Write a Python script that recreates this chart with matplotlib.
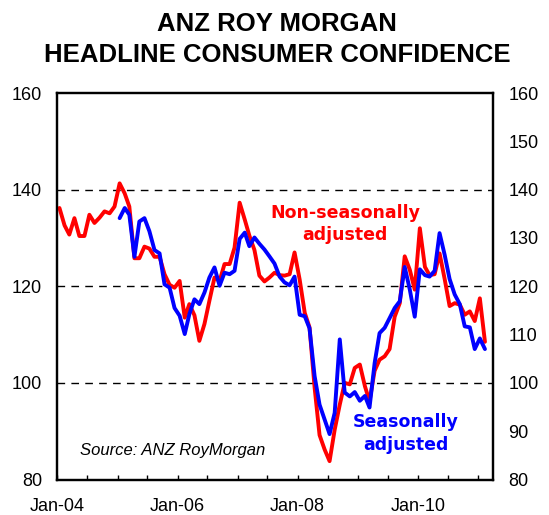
import numpy as np
import pandas as pd
import matplotlib
matplotlib.use('Agg')
import matplotlib.pyplot as plt
import matplotlib.dates as mdates

plt.rcParams['font.family'] = ['Liberation Sans', 'DejaVu Sans']

# monthly index values, Jan-04 onwards
red_values = [136.2, 132.6, 130.7, 134.1, 130.4, 130.4, 134.8, 133.1, 134.2, 135.5,
              135.1, 136.5, 141.3, 139.2, 136.5, 125.8, 125.8, 128.2, 127.8, 126.1,
              126.1, 122.5, 120.3, 119.7, 121.1, 113.5, 116.3, 114.0, 108.7, 112.2,
              117.0, 121.8, 121.1, 124.6, 124.6, 128.0, 137.3, 133.8, 130.5, 127.5,
              122.2, 121.0, 121.8, 122.8, 122.3, 122.2, 122.5, 127.0, 121.4, 114.5,
              111.5, 99.0, 89.2, 86.2, 83.8, 90.3, 95.5, 100.0, 99.7, 103.1,
              103.8, 99.3, 96.2, 102.5, 104.8, 105.5, 107.0, 113.7, 116.5, 126.2,
              123.4, 119.3, 132.0, 124.0, 122.3, 122.5, 126.8, 121.5, 115.9, 116.5,
              116.2, 114.1, 114.8, 112.8, 117.5, 108.5]

# seasonally adjusted series starts Jan-05
blue_start = 12
blue_values = [134.1, 136.2, 134.8, 126.1, 133.4, 134.1, 131.4, 127.5, 126.8, 120.4,
               119.7, 115.5, 113.9, 110.1, 114.2, 117.3, 116.3, 118.7, 121.8, 123.9,
               120.1, 122.8, 122.5, 123.2, 129.8, 131.1, 128.3, 130.1, 128.8, 127.6,
               126.2, 124.7, 122.0, 120.8, 120.2, 122.0, 114.1, 113.8, 111.3, 101.4,
               95.5, 92.4, 89.4, 93.8, 109.0, 98.0, 97.2, 98.1, 96.3, 97.3,
               94.9, 104.1, 110.3, 111.4, 113.4, 115.5, 116.9, 124.0, 119.3, 113.7,
               123.5, 122.3, 122.0, 123.2, 131.0, 126.5, 121.5, 118.3, 116.3, 111.7,
               111.5, 107.0, 109.2, 107.0]

dates = pd.date_range('2004-01-01', periods=len(red_values), freq='MS') + pd.Timedelta(days=12)

fig = plt.figure(figsize=(5.49, 5.15), dpi=100)
ax = fig.add_axes([0.1047, 0.0689, 0.7933, 0.7505])

ax.plot(dates, red_values, color='#ff0000', lw=2.8, solid_joinstyle='round',
        solid_capstyle='round', zorder=3)
ax.plot(dates[blue_start:], blue_values, color='#0000ff', lw=2.8, solid_joinstyle='round',
        solid_capstyle='round', zorder=4)

ax.set_xlim(pd.Timestamp('2004-01-01'), pd.Timestamp('2011-04-03'))
ax.set_ylim(80, 160)
ax.set_yticks(np.arange(80, 161, 20))
for v in [100, 120, 140]:
    ax.axhline(v, color='black', lw=1.0, linestyle=(0, (5.5, 4.5)), zorder=1)

ax.xaxis.set_major_locator(mdates.YearLocator(base=2, month=1, day=1))
ax.xaxis.set_major_formatter(mdates.DateFormatter('%b-%y'))
ax.xaxis.set_minor_locator(mdates.MonthLocator(bymonth=[1, 7]))
ax.tick_params(axis='x', which='both', direction='in', length=3.3, width=1.0,
               labelsize=13, pad=13)
ax.tick_params(axis='y', length=0, labelsize=13, pad=11)

ax2 = ax.twinx()
ax2.set_ylim(80, 160)
ax2.set_yticks(np.arange(80, 161, 10))
ax2.tick_params(axis='y', length=0, labelsize=13, pad=11)

for a in (ax, ax2):
    for s in a.spines.values():
        s.set_linewidth(1.6)
        s.set_color('black')

fig.text(0.505, 1 - 24 / 515, 'ANZ ROY MORGAN', ha='center', va='center',
         fontsize=18.5, fontweight='bold')
fig.text(0.505, 1 - 55 / 515, 'HEADLINE CONSUMER CONFIDENCE', ha='center', va='center',
         fontsize=18.5, fontweight='bold')

ax.text(0.660, 0.662, 'Non-seasonally\nadjusted', transform=ax.transAxes, ha='center',
        va='center', color='#ff0000', fontsize=12.5, fontweight='bold',
        family='DejaVu Sans', linespacing=1.3, zorder=5)
ax.text(0.800, 0.119, 'Seasonally\nadjusted', transform=ax.transAxes, ha='center',
        va='center', color='#0000ff', fontsize=12.5, fontweight='bold',
        family='DejaVu Sans', linespacing=1.3, zorder=5)
ax.text(0.052, 0.074, 'Source: ANZ RoyMorgan', transform=ax.transAxes, ha='left',
        va='center', fontsize=12, style='italic')

fig.savefig('out.png', dpi=100)
